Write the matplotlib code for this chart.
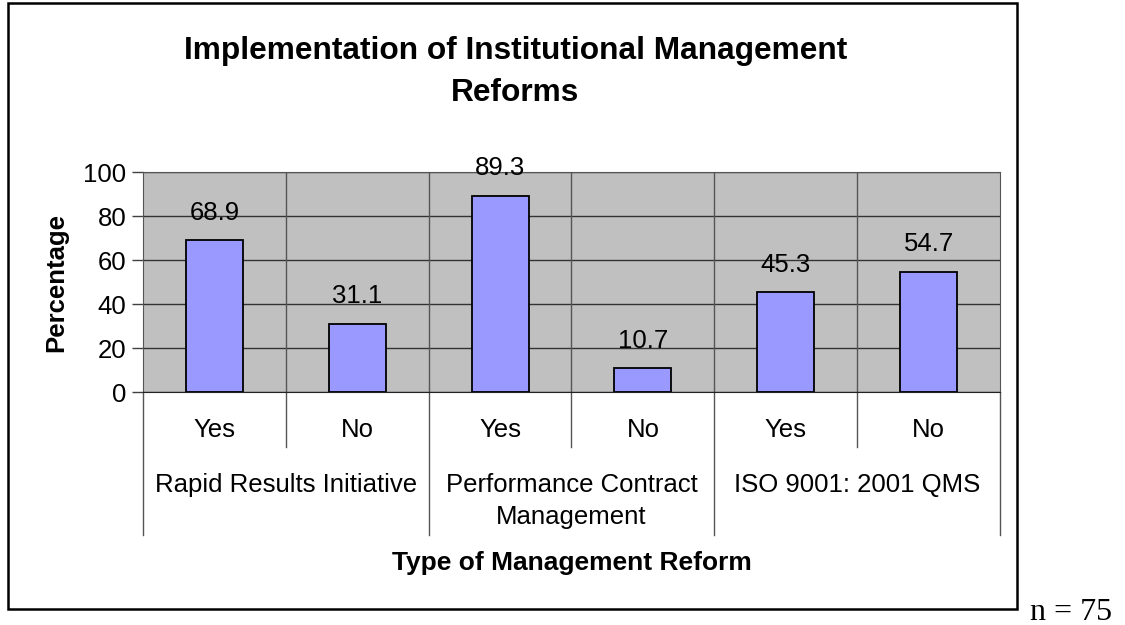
import matplotlib.pyplot as plt
from matplotlib.patches import Rectangle
import matplotlib.transforms as mtransforms

# data
answers = ["Yes", "No", "Yes", "No", "Yes", "No"]
reforms = ["Rapid Results Initiative", "Performance Contract\nManagement", "ISO 9001: 2001 QMS"]
percent = [68.9, 31.1, 89.3, 10.7, 45.3, 54.7]
yticks = [0, 20, 40, 60, 80, 100]

plt.rcParams['font.family'] = ['Liberation Sans', 'DejaVu Sans']

fig = plt.figure(figsize=(11.25, 6.25), dpi=100)
ax = fig.add_axes([143 / 1125, 1 - 392 / 625, 857 / 1125, 220 / 625])

x = list(range(len(percent)))
bars = ax.bar(x, percent, width=0.4, color='#9999FF', edgecolor='black', linewidth=1.3, zorder=3)
for b, v in zip(bars, percent):
    ax.annotate(f"{v:.1f}", (b.get_x() + b.get_width() / 2, v), xytext=(0, 20),
                textcoords='offset points', ha='center', va='center', fontsize=18.5, zorder=4)

ax.set_facecolor('#C0C0C0')
ax.set_xlim(-0.5, len(percent) - 0.5)
ax.set_ylim(0, 100)
ax.set_yticks(yticks)
ax.tick_params(axis='y', labelsize=18.5, length=8, width=1, color='#404040', pad=4)
ax.set_xticks([])
ax.yaxis.grid(True, color='#333333', linewidth=1)
ax.set_axisbelow(True)
for s in ax.spines.values():
    s.set_color('#555555')
ax.spines['bottom'].set_color('#222222')
for xi in range(1, len(percent)):
    ax.axvline(xi - 0.5, color='#555555', linewidth=1, zorder=1)

# category labels under the axis
trans = mtransforms.blended_transform_factory(ax.transData, ax.transAxes)
for xi, lab in zip(x, answers):
    ax.text(xi, -0.173, lab, transform=trans, ha='center', va='center', fontsize=18.5)
for xi in range(len(percent) + 1):
    depth = -0.65 if xi % 2 == 0 else -0.25
    ax.plot([xi - 0.5, xi - 0.5], [0, depth], transform=trans, color='#555555',
            linewidth=1, clip_on=False)
for gi, lab in enumerate(reforms):
    ax.text(2 * gi + 0.5, -0.37, lab, transform=trans, ha='center', va='top',
            fontsize=18.5, linespacing=1.4)

ax.text(0.5, -0.777, "Type of Management Reform", transform=ax.transAxes, ha='center',
        va='center', fontsize=19, fontweight='bold')
ax.set_ylabel("Percentage", fontsize=18.5, fontweight='bold', labelpad=11)

fig.text(0.458, 1 - 72 / 625, "Implementation of Institutional Management\nReforms",
         ha='center', va='center', fontsize=22.8, fontweight='bold', linespacing=1.5)

fig.patches.append(Rectangle((8 / 1125, 1 - 609 / 625), 1009 / 1125, 606 / 625,
                             transform=fig.transFigure, fill=False, edgecolor='black',
                             linewidth=1.8))
fig.text(1030 / 1125, 1 - 612 / 625, "n = 75", ha='left', va='center', fontsize=23,
         family=['Liberation Serif', 'DejaVu Serif'])

fig.savefig('out.png', dpi=100)
